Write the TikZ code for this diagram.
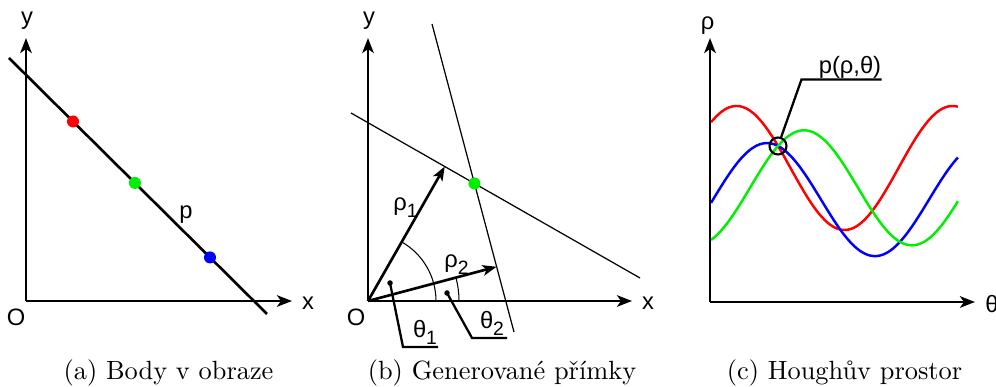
\documentclass[tikz,border=0pt]{standalone}
\usepackage{fontspec}
\newfontfamily\lblfont{Liberation Sans}
\newfontfamily\captfont{lmroman10-regular.otf}
\usetikzlibrary{calc,arrows.meta}

\definecolor{ptred}{RGB}{255,0,0}
\definecolor{ptgreen}{RGB}{0,240,0}
\definecolor{ptblue}{RGB}{0,0,255}

\newcommand{\lowsub}[1]{\raisebox{-0.55ex}{\fontsize{11}{13}\selectfont#1}}

\tikzset{
  axisline/.style={line width=1.6pt, -{Stealth[length=8.5pt,width=6.5pt,inset=2.2pt]}},
  vecline/.style={line width=1.5pt, -{Stealth[length=8pt,width=6pt,inset=2pt]}},
  thinline/.style={line width=0.7pt},
  leader/.style={line width=1.3pt},
  ptdot/.style={circle, inner sep=0pt, minimum size=0.24cm},
  tickdot/.style={circle, fill=black, inner sep=0pt, minimum size=0.11cm},
  lbl/.style={font=\lblfont\fontsize{13.5}{15}\selectfont, inner sep=1pt},
  capt/.style={font=\captfont\fontsize{15}{17}\selectfont},
  hcurve/.style={line width=1.4pt, samples=150, smooth},
}

\begin{document}
\begin{tikzpicture}
  \useasboundingbox (0,0) rectangle (19.92,7.74);

  % (a)
  \coordinate (aO) at (0.52,1.72);
  \coordinate (aXend) at (5.84,1.72);
  \coordinate (aYend) at (0.52,6.98);
  \draw[axisline] (aO) -- (aXend);
  \draw[axisline] (aO) -- (aYend);
  \node[lbl] (aXlab) at (6.16,1.68) {x};
  \node[lbl] (aYlab) at (0.54,7.33) {y};
  \node[lbl] (aOlab) at (0.32,1.39) {O};
  \coordinate (pA) at (0.18,6.58);
  \coordinate (pB) at (5.34,1.46);
  \draw[line width=1.5pt] (pA) -- (pB);
  \foreach \col/\t/\n in {ptred/0.248/r, ptgreen/0.488/g, ptblue/0.779/b}
    \node[ptdot, fill=\col] (a\n) at ($(pA)!\t!(pB)$) {};
  \node[lbl] (pLab) at (3.72,3.45) {p};
  \node[capt] (capA) at (3.37,0.28) {(a) Body v obraze};

  % (b)
  \coordinate (bO) at (7.36,1.72);
  \coordinate (bXend) at (12.64,1.72);
  \coordinate (bYend) at (7.36,6.98);
  \draw[axisline] (bO) -- (bXend);
  \draw[axisline] (bO) -- (bYend);
  \node[lbl] (bXlab) at (12.96,1.68) {x};
  \node[lbl] (bYlab) at (7.38,7.33) {y};
  \node[lbl] (bOlab) at (7.12,1.39) {O};
  \coordinate (l1a) at (8.64,7.26);
  \coordinate (l1b) at (10.28,1.10);
  \coordinate (l2a) at (7.02,5.48);
  \coordinate (l2b) at (12.80,2.18);
  \draw[thinline] (l1a) -- (l1b);
  \draw[thinline] (l2a) -- (l2b);
  \coordinate (r1) at ($(l2a)!(bO)!(l2b)$);
  \coordinate (r2) at ($(l1a)!(bO)!(l1b)$);
  \draw[line width=0.6pt] ($(bO)+(1.36,0)$) arc[start angle=0, end angle=60.3, radius=1.36];
  \draw[line width=0.6pt] ($(bO)+(1.82,0)$) arc[start angle=0, end angle=14.9, radius=1.82];
  \draw[vecline] (bO) -- (r1);
  \draw[vecline] (bO) -- (r2);
  \node[ptdot, fill=ptgreen] (bG) at (intersection of l1a--l1b and l2a--l2b) {};
  \node[lbl] (r1Lab) at (8.11,3.58) {ρ\lowsub{1}};
  \node[lbl] (r2Lab) at (9.13,2.44) {ρ\lowsub{2}};

  \node[tickdot] (t1dot) at (7.80,2.08) {};
  \coordinate (t1knee) at (8.06,0.80);
  \coordinate (t1end) at (8.76,0.80);
  \draw[leader] (t1dot.center) -- (t1knee) -- (t1end);
  \node[lbl] (t1Lab) at (8.50,1.10) {θ\lowsub{1}};
  \node[tickdot] (t2dot) at (8.94,1.88) {};
  \coordinate (t2knee) at (9.44,0.98);
  \coordinate (t2end) at (10.14,0.98);
  \draw[leader] (t2dot.center) -- (t2knee) -- (t2end);
  \node[lbl] (t2Lab) at (9.84,1.28) {θ\lowsub{2}};
  \node[capt] (capB) at (10.04,0.28) {(b) Generované přímky};

  % (c)
  \coordinate (cO) at (14.20,1.70);
  \coordinate (cXend) at (19.50,1.70);
  \coordinate (cYend) at (14.20,6.98);
  \draw[hcurve, ptred, domain=14.22:19.16] plot (\x, {4.380+1.24*cos(360*(\x-14.73)/4.32)});
  \draw[hcurve, ptblue, domain=14.22:19.16] plot (\x, {3.748+1.13*cos(360*(\x-15.34)/4.32)});
  \draw[hcurve, ptgreen, domain=14.22:19.16] plot (\x, {3.984+1.15*cos(360*(\x-16.08)/4.32)});
  \draw[axisline] (cO) -- (cXend);
  \draw[axisline] (cO) -- (cYend);
  \node[lbl] (cYlab) at (14.15,7.22) {ρ};
  \node[lbl] (cXlab) at (19.84,1.66) {θ};
  \node[draw, circle, line width=1.2pt, minimum size=0.34cm, inner sep=0pt] (cI) at (15.56,4.82) {};
  \coordinate (cKnee) at (16.03,6.15);
  \coordinate (cEnd) at (17.63,6.15);
  \draw[leader] (cI) -- (cKnee) -- (cEnd);
  \node[lbl] (cILab) at (17.00,6.40) {p(ρ,θ)};
  \node[capt] (capC) at (16.89,0.28) {(c) Houghův prostor};
\end{tikzpicture}
\end{document}
